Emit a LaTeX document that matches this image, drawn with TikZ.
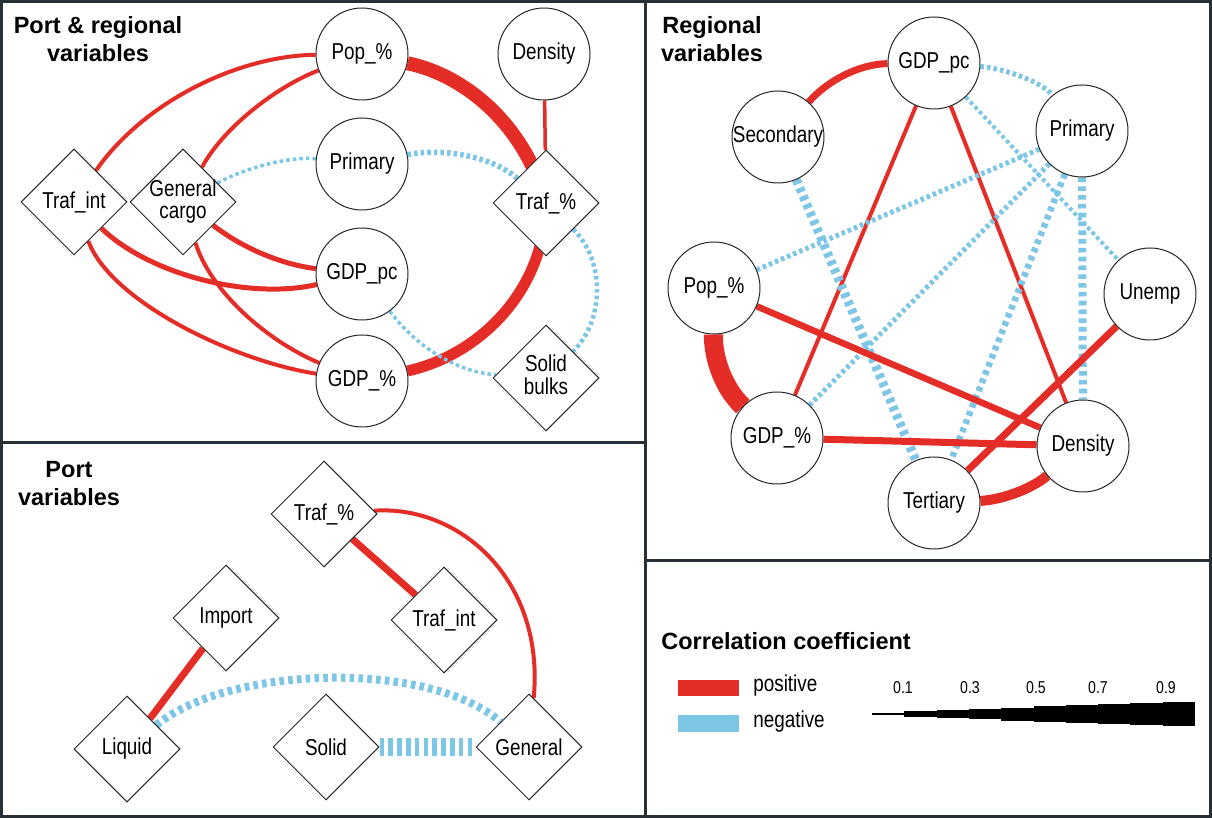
\documentclass[tikz,border=0pt]{standalone}
\usepackage{fontspec}
\setmainfont{Liberation Sans}
\newfontfamily\labfont[FakeStretch=0.82]{Liberation Sans}
\usetikzlibrary{shapes.geometric}
\definecolor{posc}{RGB}{229,45,39}
\definecolor{negc}{RGB}{126,198,230}
\definecolor{framec}{RGB}{38,48,54}
\pgfdeclarelayer{edges}
\pgfsetlayers{edges,main}
\newcommand{\zw}[1]{\makebox[0pt]{#1}}
\newcommand{\twol}[2]{\makebox[0pt]{\begin{tabular}{@{}c@{}}#1\\#2\end{tabular}}}
\tikzset{
  labf/.style={font=\labfont\fontsize{11.5}{11}\selectfont},
  circ/.style={circle, draw=black!85, line width=0.5pt, fill=white, minimum size=46pt, inner sep=0pt, labf},
  dia/.style={diamond, draw=black!85, line width=0.5pt, fill=white, minimum width=53pt, minimum height=53pt, inner sep=0pt, labf},
  lw/.style={line width=#1*0.5pt},
  posl/.style={draw=posc, lw=#1},
  negl/.style={draw=negc, lw=#1, dash pattern=on 1.8pt off 1.5pt},
  negt/.style={draw=negc, lw=#1, dash pattern=on 2.3pt off 2.1pt},
  ttl/.style={font=\bfseries\fontsize{11.75}{14}\selectfont, align=center, inner sep=0pt},
  panel/.style={draw=framec, line width=1.5pt},
}
\begin{document}
\begin{tikzpicture}[x=0.5pt, y=-0.5pt]
\useasboundingbox (0,0) rectangle (1212,818);

% ---------- Panel: Port & regional variables ----------
\node[ttl] (t1) at (98,39) {Port \& regional\\variables};
\node[circ] (a_pop) at (362,54) {\zw{Pop\_\%}};
\node[circ] (a_den) at (544,54) {\zw{Density}};
\node[circ] (a_pri) at (362,164) {\zw{Primary}};
\node[circ] (a_gpc) at (362,274) {\zw{GDP\_pc}};
\node[circ] (a_gdp) at (362,381) {\zw{GDP\_\%}};
\node[dia] (a_ti) at (74,202) {\zw{Traf\_int}};
\node[dia] (a_gc) at (183,202) {\twol{General}{cargo}};
\node[dia] (a_tp) at (546,203) {\zw{Traf\_\%}};
\node[dia] (a_sb) at (546,378) {\twol{Solid}{bulks}};

% ---------- Panel: Port variables ----------
\node[ttl] (t2) at (69,484) {Port\\variables};
\node[dia] (b_tp) at (324,514) {\zw{Traf\_\%}};
\node[dia] (b_ti) at (444,620) {\zw{Traf\_int}};
\node[dia] (b_im) at (226,618) {\zw{Import}};
\node[dia] (b_li) at (127,749) {\zw{Liquid}};
\node[dia] (b_so) at (326,747) {\zw{Solid}};
\node[dia] (b_ge) at (529,747) {\zw{General}};

% ---------- Panel: Regional variables ----------
\node[ttl] (t3) at (712,39) {Regional\\variables};
\node[circ] (c_gpc) at (934,63) {\zw{GDP\_pc}};
\node[circ] (c_sec) at (778,137) {\zw{Secondary}};
\node[circ] (c_pri) at (1082,131) {\zw{Primary}};
\node[circ] (c_pop) at (714,288) {\zw{Pop\_\%}};
\node[circ] (c_une) at (1150,294) {\zw{Unemp}};
\node[circ] (c_gdp) at (777,438) {\zw{GDP\_\%}};
\node[circ] (c_den) at (1083,446) {\zw{Density}};
\node[circ] (c_ter) at (934,503) {\zw{Tertiary}};

% ---------- Legend ----------
\node[ttl, anchor=west] (t4) at (661,641) {Correlation coefficient};
\node[fill=posc, minimum width=30.5pt, minimum height=8pt, inner sep=0pt] (lpos) at (708.5,688) {};
\node[fill=negc, minimum width=30.5pt, minimum height=8.5pt, inner sep=0pt] (lneg) at (708.5,723.5) {};
\node[labf, anchor=west, inner sep=0pt] (lposT) at (753,686) {positive};
\node[labf, anchor=west, inner sep=0pt] (lnegT) at (753,722) {negative};
\foreach \v/\xx in {0.1/903, 0.3/970, 0.5/1036, 0.7/1098, 0.9/1166}
  \node[font=\labfont\fontsize{8.6}{9}\selectfont, inner sep=0pt] (n\xx) at (\xx,688) {\v};
\foreach \i/\h in {0/2.7,1/5.7,2/8.3,3/10.7,4/13,5/15.7,6/17.7,7/20,8/22,9/24}
  \fill[black] (872+32.3*\i, 714-\h/2) rectangle ++(32.6, \h);

% ---------- Edges ----------
\begin{pgfonlayer}{edges}
% top-left
\draw[posl=4] (a_ti) .. controls (143,103) and (236,56) .. (a_pop);
\draw[posl=4] (a_gc) .. controls (225,125) and (280,85) .. (a_pop);
\draw[negl=3.5] (a_gc) .. controls (245,168) and (290,156) .. (a_pri);
\draw[negl=5.5] (a_pri) .. controls (440,148) and (490,155) .. (a_tp);
\draw[posl=14] (a_pop) .. controls (465,75) and (525,125) .. (a_tp.center);
\draw[posl=11] (a_tp.center) .. controls (545,290) and (480,355) .. (a_gdp);
\draw[posl=3.5] (a_den) -- (a_tp);
\draw[posl=5] (a_ti) .. controls (150,275) and (250,300) .. (a_gpc);
\draw[posl=5] (a_gc) .. controls (245,250) and (285,265) .. (a_gpc);
\draw[posl=4] (a_ti) .. controls (110,300) and (230,360) .. (a_gdp);
\draw[posl=4] (a_gc) .. controls (210,290) and (265,340) .. (a_gdp);
\draw[negl=3.5] (a_gpc) .. controls (415,345) and (455,372) .. (a_sb);
\draw[negl=4.5] (a_tp) .. controls (605,260) and (605,320) .. (a_sb);
% bottom-left
\draw[posl=7] (b_tp) -- (b_ti);
\draw[posl=4] (b_tp) .. controls (460,505) and (545,580) .. (b_ge);
\draw[posl=7] (b_im) -- (b_li);
\draw[negt=8] (b_li) .. controls (230,665) and (430,660) .. (b_ge);
\draw[negt=18] (b_so) -- (b_ge);
% right
\draw[posl=7] (c_gpc) .. controls (860,64) and (828,80) .. (c_sec);
\draw[negl=5] (c_gpc) .. controls (1000,68) and (1040,80) .. (c_pri);
\draw[negl=4] (c_gpc) -- (c_une);
\draw[posl=4] (c_gpc) -- (c_gdp);
\draw[posl=4] (c_gpc) -- (c_den);
\draw[negt=9] (c_sec) -- (c_ter);
\draw[negl=5] (c_pri) -- (c_pop);
\draw[negl=5] (c_pri) -- (c_gdp);
\draw[negt=6.5] (c_pri) -- (c_ter);
\draw[negt=8] (c_pri) -- (c_den);
\draw[posl=19] (c_pop) .. controls (713,360) and (725,390) .. (c_gdp);
\draw[posl=6.5] (c_pop) -- (c_den);
\draw[posl=7] (c_gdp) -- (c_den);
\draw[posl=7] (c_une) -- (c_ter);
\draw[posl=10] (c_ter) .. controls (1000,500) and (1030,490) .. (c_den);
\end{pgfonlayer}

% ---------- Frames ----------
\draw[panel] (1.5,1.5) rectangle (1210.5,816.5);
\draw[panel] (645,0) -- (645,818);
\draw[panel] (0,443) -- (645,443);
\draw[panel] (645,561) -- (1212,561);
\end{tikzpicture}
\end{document}
